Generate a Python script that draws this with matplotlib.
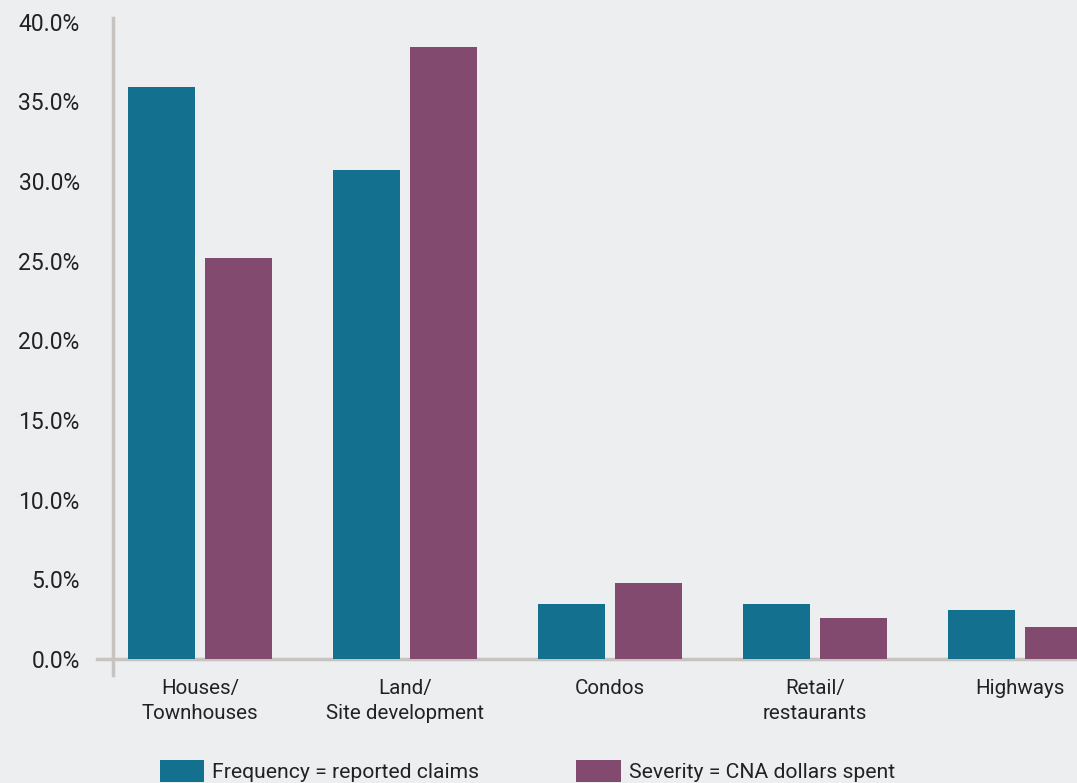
import numpy as np
import matplotlib.pyplot as plt
from matplotlib.ticker import FuncFormatter

categories = ['Houses/\nTownhouses', 'Land/\nSite development', 'Condos',
              'Retail/\nrestaurants', 'Highways']
frequency = [35.9, 30.7, 3.45, 3.45, 3.1]
severity = [25.2, 38.4, 4.8, 2.6, 2.0]
series_names = ['Frequency = reported claims', 'Severity = CNA dollars spent']

TEAL = '#14708F'
PURPLE = '#834A70'
BG = '#EDEEF0'
AXIS = '#C6C3C0'
TXT = '#222222'

plt.rcParams['font.family'] = ['Roboto', 'DejaVu Sans']

fig = plt.figure(figsize=(10.77, 7.83), dpi=100, facecolor=BG)
ax = fig.add_axes([113/1077, 108/783, 1 - 113/1077, (675-18)/783])
ax.set_facecolor(BG)

x = np.arange(len(categories))
w = 0.327
ax.bar(x - 0.188, frequency, w, color=TEAL, label=series_names[0], zorder=3)
ax.bar(x + 0.188, severity, w, color=PURPLE, label=series_names[1], zorder=3)

ax.set_xlim(-0.424, 4.278)
ax.set_ylim(-1.0, 40.24)
ax.set_yticks(np.arange(0, 41, 5))
ax.yaxis.set_major_formatter(FuncFormatter(lambda v, p: f'{v:.1f}%'))
ax.set_xticks(x)
ax.set_xticklabels(categories, linespacing=1.4)

for s in ['top', 'right', 'bottom']:
    ax.spines[s].set_visible(False)
ax.spines['left'].set_color(AXIS)
ax.spines['left'].set_linewidth(2.5)
ax.axhline(0, xmin=-16/964, xmax=1, color=AXIS, lw=2.5, clip_on=False, zorder=2)

ax.tick_params(axis='y', length=0, pad=24, labelsize=16.5, labelcolor=TXT)
ax.tick_params(axis='x', length=0, pad=3, labelsize=14.8, labelcolor=TXT)

fig.legend(loc='center left', bbox_to_anchor=(160/1077, 12/783), ncol=2,
           frameon=False, fontsize=15.2, handlelength=2.1, handleheight=1.2,
           handletextpad=0.38, columnspacing=4.6, borderpad=0, borderaxespad=0,
           labelcolor=TXT)

fig.savefig('out.png', dpi=100, facecolor=BG)
